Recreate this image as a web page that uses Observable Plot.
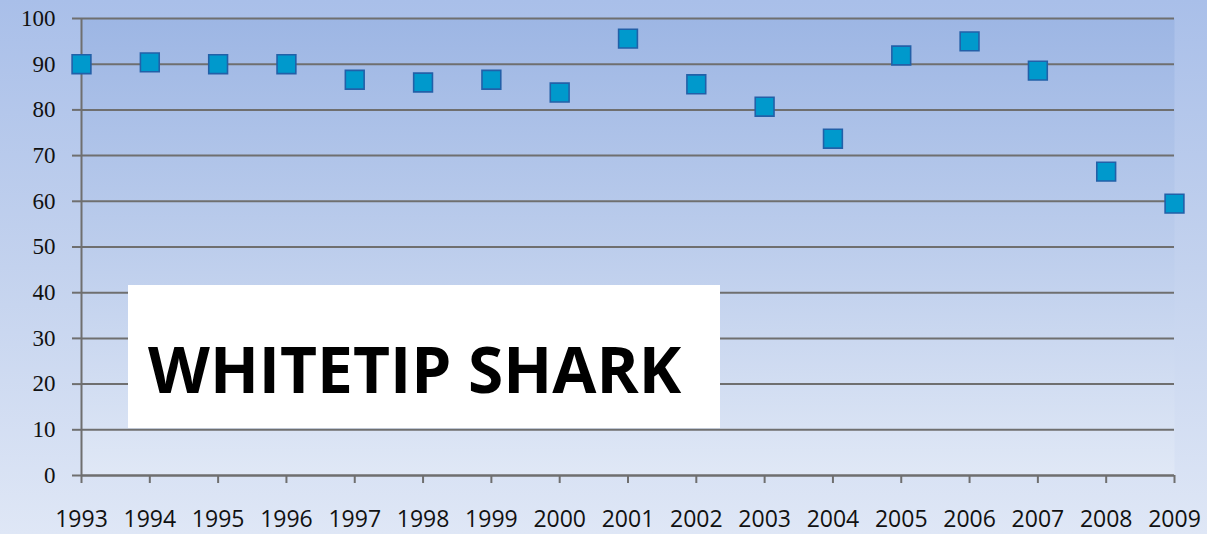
<!DOCTYPE html>
<html>
<head>
<meta charset="utf-8">
<script src="https://cdn.jsdelivr.net/npm/d3@7"></script>
<script src="https://cdn.jsdelivr.net/npm/@observablehq/plot@0.6"></script>
<style>
  html, body { margin: 0; padding: 0; }
  #wrap {
    position: relative; width: 1207px; height: 534px; overflow: hidden;
    background: linear-gradient(to bottom, #a9bfe9 0%, #c3d2ee 50%, #dfe7f6 100%);
  }
  #note {
    position: absolute; left: 128px; top: 285px; width: 592px; height: 143px;
    background: #ffffff; box-sizing: border-box;
    font-family: "Open Sans", sans-serif; font-weight: 700; font-size: 64px;
    color: #000; white-space: nowrap;
  }
  #note span { position: absolute; left: 20px; top: 52px; line-height: 1; display: inline-block; }
</style>
</head>
<body>
<div id="wrap"></div>
<script>
const years = [1993,1994,1995,1996,1997,1998,1999,2000,2001,2002,2003,2004,2005,2006,2007,2008,2009];
const values = [90,90.4,90,90,86.6,86,86.6,83.8,95.6,85.6,80.7,73.7,91.9,95,88.6,66.5,59.5];
const yTicks = [0,10,20,30,40,50,60,70,80,90,100];
const title = "WHITETIP SHARK";

const data = years.map((y, i) => ({year: y, value: values[i]}));

const chart = Plot.plot({
  width: 1207,
  height: 534,
  marginLeft: 81,
  marginRight: 33,
  marginTop: 18,
  marginBottom: 59,
  style: {background: "transparent", overflow: "visible"},
  x: {domain: [1993, 2009], ticks: years, tickFormat: d => String(d), label: null},
  y: {domain: [0, 100], ticks: yTicks, label: null},
  marks: [
    Plot.frame({fill: "url(#plotgrad)", stroke: null}),
    Plot.gridY(yTicks, {stroke: "#6f6f6f", strokeOpacity: 1, strokeWidth: 2}),
    Plot.axisY(yTicks, {tickSize: 9, tickPadding: 17, stroke: "#6f6f6f", strokeWidth: 2, label: null,
      fontSize: 23, fontFamily: "Liberation Serif, serif", fill: "#111", tickFormat: d => String(d)}),
    Plot.ruleX([1993], {stroke: "#6f6f6f", strokeWidth: 2}),
    Plot.ruleY([0], {stroke: "#6f6f6f", strokeWidth: 2}),
    Plot.axisX(years, {tickSize: 8, tickPadding: 27, stroke: "#6f6f6f", strokeWidth: 2, label: null,
      fontSize: 23, fontFamily: "Open Sans, sans-serif", fill: "#111", tickFormat: d => String(d)}),
    Plot.dot(data, {x: "year", y: "value", symbol: "square", r: 10.6,
      fill: "#0099cc", stroke: "#2260a8", strokeWidth: 1.6, fillOpacity: 1})
  ]
});

const ns = "http://www.w3.org/2000/svg";
const defs = document.createElementNS(ns, "defs");
defs.innerHTML = `<linearGradient id="plotgrad" x1="0" y1="0" x2="0" y2="1">
  <stop offset="0" stop-color="#9db6e4"/>
  <stop offset="0.5" stop-color="#bccdec"/>
  <stop offset="1" stop-color="#e0e8f6"/>
</linearGradient>`;
chart.insertBefore(defs, chart.firstChild);

const wrap = document.getElementById("wrap");
wrap.appendChild(chart);
const note = document.createElement("div");
note.id = "note";
const span = document.createElement("span");
span.textContent = title;
note.appendChild(span);
wrap.appendChild(note);
</script>
</body>
</html>
